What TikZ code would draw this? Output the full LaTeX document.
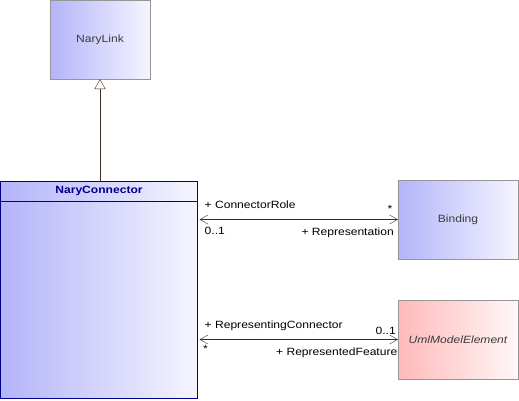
\documentclass[tikz,border=0pt]{standalone}
\usepackage{fontspec}
\setmainfont{Liberation Sans}[FakeStretch=1.15]
\usepackage{tikz}
\usetikzlibrary{arrows.meta, positioning}

\definecolor{umlblue}{RGB}{180,180,250}
\definecolor{umlred}{RGB}{255,185,185}
\definecolor{umlnavy}{RGB}{0,0,140}
\definecolor{umlgray}{RGB}{150,150,150}
\definecolor{umltext}{RGB}{60,60,60}
\definecolor{umlline}{RGB}{60,45,30}

\tikzset{
  classbox/.style={draw=umlgray, left color=umlblue, right color=white!96!blue,
    minimum width=100pt, minimum height=79pt, outer sep=0pt, inner sep=0pt,
    text=umltext, font=\fontsize{10.5}{12}\selectfont},
  assoc/.style={draw=umlline, {Straight Barb[length=8pt,width=9pt]}-{Straight Barb[length=8pt,width=9pt]}},
  role/.style={font=\fontsize{10.5}{12}\selectfont, inner sep=0pt}
}

\begin{document}
\begin{tikzpicture}[x=1pt,y=-1pt]
             \useasboundingbox (0,0) rectangle (519,400);
             % classes
             \node[classbox] (narylink) at (100,39.5) {NaryLink};
             \node[classbox, minimum width=197pt, minimum height=217pt, draw=umlnavy]
                  (connector) at (99,289.5) {};
             \node[font=\fontsize{10.5}{12}\selectfont\bfseries, text=umlnavy]
                  (title) at (99,190.5) {NaryConnector};
             \draw[umlnavy] ([yshift=-20pt]connector.north west) -- ([yshift=-20pt]connector.north east);
             \node[classbox, minimum width=120pt] (binding) at (458,219.5) {Binding};
             \node[classbox, minimum width=120pt, left color=umlred, right color=white!97!red,
                   font=\fontsize{10.5}{12}\selectfont\itshape] (element) at (458,339.5) {UmlModelElement};
             % generalization
             \draw[umlline, -{Triangle[open, length=10pt, width=11pt, fill=white]}]
                  (connector.north -| narylink.south) -- (narylink.south);
             % associations
             \coordinate (b1) at ([xshift=2pt]binding.west -| connector.east);
             \coordinate (b2) at ([xshift=2pt]element.west -| connector.east);
             \draw[assoc] (b1) -- (binding.west);
             \draw[assoc] (b2) -- (element.west);
             \node[role, anchor=base west] at ([xshift=5pt,yshift=11.5pt]b1) {+ ConnectorRole};
             \node[role, anchor=base west] at ([xshift=5pt,yshift=-15pt]b1) {0..1};
             \node[role, anchor=base] at ([xshift=-8pt,yshift=7pt]binding.west) {*};
             \node[role, anchor=base east] at ([xshift=-4pt,yshift=-15.5pt]binding.west) {+ Representation};
             \node[role, anchor=base west] at ([xshift=5pt,yshift=11.5pt]b2) {+ RepresentingConnector};
             \node[role, anchor=base east] at ([xshift=-2pt,yshift=5pt]element.west) {0..1};
             \node[role, anchor=base] at ([xshift=6pt,yshift=-13pt]b2) {*};
             \node[role, anchor=base east] at ([xshift=-0.5pt,yshift=-15.5pt]element.west) {+ RepresentedFeature};
         \end{tikzpicture}
\end{document}
